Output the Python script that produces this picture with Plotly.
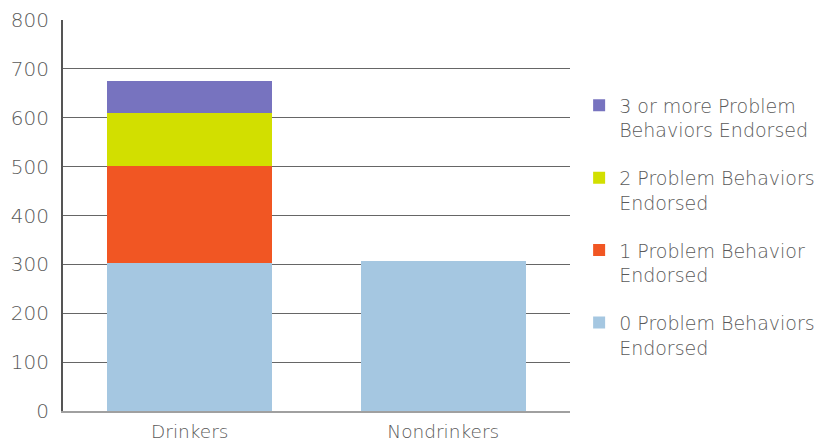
import plotly.graph_objects as go

categories = ["Drinkers", "Nondrinkers"]
series_names = [
    "0 Problem Behaviors<br>Endorsed",
    "1 Problem Behavior<br>Endorsed",
    "2 Problem Behaviors<br>Endorsed",
    "3 or more Problem<br>Behaviors Endorsed",
]
values_0 = [303, 306]
values_1 = [198, 0]
values_2 = [109, 0]
values_3 = [66, 0]
colors = ["#a5c7e1", "#f15623", "#d2df00", "#7773bf"]
y_ticks = [0, 100, 200, 300, 400, 500, 600, 700, 800]

fig = go.Figure()
series = [values_0, values_1, values_2, values_3]
for i, (name, vals, col) in enumerate(zip(series_names, series, colors)):
    fig.add_trace(go.Bar(
        x=categories, y=vals, name=name, legendgroup=name,
        legendrank=1000 - i,
        marker=dict(color=col, line=dict(width=0)),
    ))

fam = "DejaVu Sans, sans-serif"
fig.update_layout(
    barmode="stack",
    bargap=0.35,
    width=815, height=443,
    margin=dict(l=63, r=245, t=20, b=32, autoexpand=False),
    plot_bgcolor="white", paper_bgcolor="white",
    font=dict(family=fam, size=19, color="#5a5a5a", weight=300),
    showlegend=True,
    legend=dict(
        traceorder="grouped",
        x=1.018, xanchor="left",
        y=0.83, yanchor="top",
        tracegroupgap=20,
        valign="top",
        font=dict(family=fam, size=19, color="#5a5a5a", weight=300),
        bgcolor="rgba(0,0,0,0)",
    ),
    xaxis=dict(
        showline=True, linecolor="#a0a0a0", linewidth=2,
        ticks="", ticklabelstandoff=3, automargin=False,
        tickfont=dict(family=fam, size=18.5, weight=300),
    ),
    yaxis=dict(
        range=[0, 800], tickvals=y_ticks,
        showgrid=True, gridcolor="#666666", gridwidth=1,
        showline=True, linecolor="#555555", linewidth=2,
        zeroline=False, ticks="", ticklabelstandoff=8, automargin=False,
        tickfont=dict(family=fam, size=20, weight=300),
    ),
)

fig.write_html("out.html", config={"displayModeBar": False},
               post_script="document.body.style.margin='0';")
